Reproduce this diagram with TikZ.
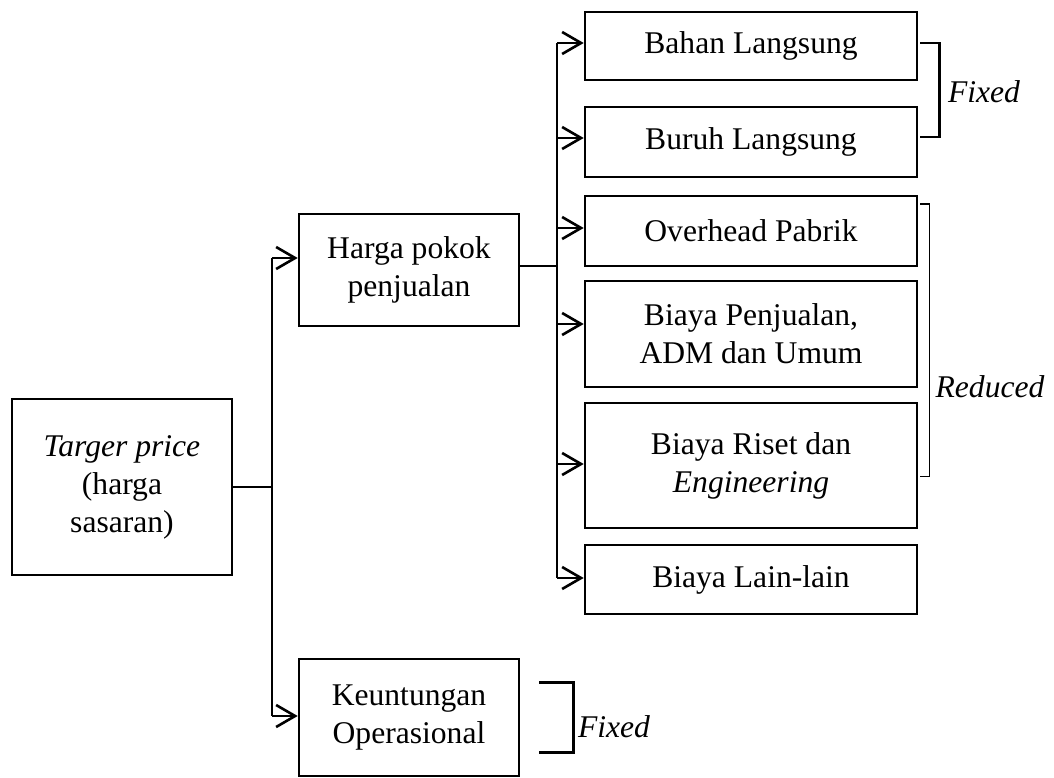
\documentclass[tikz,border=0pt]{standalone}
\usepackage{fontspec}
\setmainfont{Liberation Serif}
\usetikzlibrary{arrows.meta}
\begin{document}
\begin{tikzpicture}[x=1pt,y=-1pt,
  box/.style={draw, line width=2.6pt, inner sep=0pt, align=center,
    font=\fontsize{31.6}{38}\selectfont},
  conn/.style={line width=2.6pt},
  arr/.style={line width=2.6pt, -{Straight Barb[length=19pt,width=22pt]}},
  lbl/.style={font=\fontsize{31.6}{38}\selectfont\itshape, inner sep=0pt},
  brk/.style={line width=2.6pt},
  thinbrk/.style={line width=1.6pt}]
\useasboundingbox (0,0) rectangle (1054,778);

% left column
\node[box, minimum width=220pt, minimum height=176pt] (target) at (122,487)
  {\textit{Targer price}\\(harga\\sasaran)};
% middle column
\node[box, minimum width=220pt, minimum height=112pt] (harga) at (409,270)
  {Harga pokok\\penjualan};
\node[box, minimum width=220pt, minimum height=117pt] (keunt) at (409,717.5)
  {Keuntungan\\Operasional};
% right column
\node[box, minimum width=332pt, minimum height=68pt] (bahan) at (751,46) {Bahan Langsung};
\node[box, minimum width=332pt, minimum height=70pt] (buruh) at (751,142) {Buruh Langsung};
\node[box, minimum width=332pt, minimum height=70pt] (overhead) at (751,231) {Overhead Pabrik};
\node[box, minimum width=332pt, minimum height=106pt] (penj) at (751,334)
  {Biaya Penjualan,\\ADM dan Umum};
\node[box, minimum width=332pt, minimum height=125pt] (riset) at (751,465.5)
  {Biaya Riset dan\\\textit{Engineering}};
\node[box, minimum width=332pt, minimum height=69pt] (lain) at (751,579.5) {Biaya Lain-lain};

% trunk coordinates
\coordinate (lt) at (272,487);
\coordinate (rt) at (557,266);

% left tree
\coordinate (hargaIn) at ([shift={(0,-12)}]harga.west);
\coordinate (keuntIn) at ([shift={(0,-1.5)}]keunt.west);
\draw[conn] (target.east) -- (target.east -| lt);
\draw[conn] (lt |- hargaIn) -- (lt |- keuntIn);
\draw[arr] (lt |- hargaIn) -- (hargaIn);
\draw[arr] (lt |- keuntIn) -- (keuntIn);

% right tree
\coordinate (bahanIn) at ([shift={(0,-3)}]bahan.west);
\coordinate (buruhIn) at ([shift={(0,-4)}]buruh.west);
\coordinate (overIn) at ([shift={(0,-3)}]overhead.west);
\coordinate (penjIn) at ([shift={(0,-10)}]penj.west);
\coordinate (risetIn) at ([shift={(0,-1.5)}]riset.west);
\coordinate (lainIn) at ([shift={(0,-1.5)}]lain.west);
\draw[conn] ([shift={(0,-4)}]harga.east) -- (rt);
\draw[conn] (rt |- bahanIn) -- (rt |- lainIn);
\foreach \c in {bahanIn,buruhIn,overIn,penjIn,risetIn,lainIn}
  \draw[arr] (rt |- \c) -- (\c);

% brackets and labels
\draw[brk] ([shift={(2,-3)}]bahan.east) -- ++(19,0) |- ([shift={(2,-5)}]buruh.east);
\node[lbl] (fixed1) at (984,92) {Fixed};
\draw[thinbrk] ([shift={(2,-27)}]overhead.east) -- ++(9,0) |- ([shift={(2,11)}]riset.east);
\node[lbl] (reduced) at (990,387) {Reduced};
\draw[brk] ([shift={(19,-35)}]keunt.east) -- ++(34,0) |- ([shift={(19,35)}]keunt.east);
\node[lbl] (fixed2) at (614,727) {Fixed};
\end{tikzpicture}
\end{document}
